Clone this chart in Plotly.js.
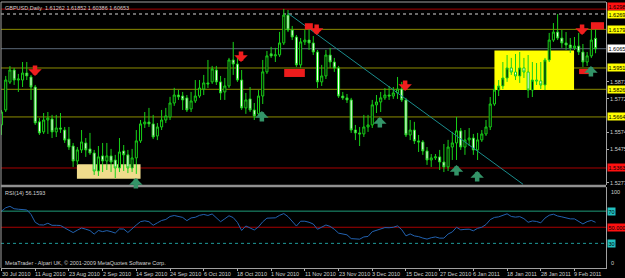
<!DOCTYPE html>
<html><head><meta charset="utf-8">
<script src="https://cdn.plot.ly/plotly-3.0.1.min.js"></script>
<style>html,body{margin:0;padding:0;background:#000;overflow:hidden}#chart{width:625px;height:278px}</style>
</head><body><div id="chart"></div>
<script>
// ---- data (GBPUSD daily) ----
const open = [
1.5617,1.5705,1.5869,1.5940,1.5881,1.5881,1.5922,1.5899,1.5840,1.5635,
1.5576,1.5646,1.5652,1.5576,1.5599,1.5587,1.5534,1.5493,1.5405,1.5470,
1.5511,1.5476,1.5452,1.5346,1.5435,1.5405,1.5435,1.5411,1.5364,1.5464,
1.5441,1.5364,1.5423,1.5523,1.5623,1.5634,1.5623,1.5552,1.5605,1.5646,
1.5664,1.5746,1.5793,1.5787,1.5776,1.5711,1.5758,1.5787,1.5828,1.5864,
1.5870,1.5940,1.5870,1.5811,1.5846,1.5999,1.5975,1.5881,1.5717,1.5770,
1.5705,1.5682,1.5787,1.5929,1.6035,1.6023,1.6029,1.6099,1.6263,1.6175,
1.6134,1.5970,1.6105,1.6116,1.6099,1.6046,1.5870,1.5905,1.6028,1.5987,
1.5952,1.5787,1.5776,1.5764,1.5587,1.5570,1.5564,1.5605,1.5617,1.5735,
1.5752,1.5776,1.5793,1.5787,1.5805,1.5828,1.5764,1.5558,1.5587,1.5523,
1.5517,1.5464,1.5411,1.5423,1.5429,1.5399,1.5370,1.5487,1.5511,1.5582,
1.5487,1.5529,1.5540,1.5470,1.5529,1.5564,1.5605,1.5740,1.5822,1.5846,
1.5893,1.5952,1.5928,1.5905,1.5952,1.5928,1.5822,1.5881,1.5876,1.5852,
1.5999,1.6116,1.6163,1.6128,1.6099,1.6087,1.6070,1.6081,1.6046,1.5987,
1.6023,1.61262];
const high = [
1.5705,1.5905,1.5963,1.5952,1.5917,1.5987,1.5987,1.5911,1.5852,1.5658,
1.5687,1.5693,1.5676,1.5676,1.5687,1.5605,1.5605,1.5511,1.5487,1.5587,
1.5540,1.5570,1.5470,1.5493,1.5511,1.5511,1.5476,1.5441,1.5540,1.5499,
1.5470,1.5476,1.5587,1.5646,1.5693,1.5717,1.5676,1.5628,1.5705,1.5717,
1.5782,1.5835,1.5823,1.5811,1.5793,1.5811,1.5881,1.5881,1.5911,1.5999,
1.5964,1.5964,1.5905,1.5893,1.6011,1.6105,1.6011,1.5940,1.5805,1.5840,
1.5746,1.5822,1.5999,1.6052,1.6076,1.6070,1.6164,1.6299,1.6293,1.6199,
1.6146,1.6128,1.6175,1.6187,1.6140,1.6058,1.5970,1.6058,1.6070,1.6011,
1.5964,1.5811,1.5799,1.5776,1.5617,1.5605,1.5676,1.5676,1.5764,1.5793,
1.5811,1.5834,1.5846,1.5840,1.5899,1.5870,1.5776,1.5646,1.5635,1.5558,
1.5528,1.5487,1.5446,1.5446,1.5470,1.5505,1.5529,1.5576,1.5664,1.5599,
1.5587,1.5599,1.5564,1.5570,1.5587,1.5646,1.5781,1.5852,1.5881,1.5987,
1.6028,1.6011,1.6034,1.6046,1.6011,1.6028,1.5987,1.5981,1.5987,1.6011,
1.6158,1.6216,1.6269,1.6175,1.6163,1.6128,1.6134,1.6158,1.6093,1.6046,
1.6175,1.61852];
const low = [
1.5558,1.5693,1.5858,1.5852,1.5811,1.5840,1.5881,1.5764,1.5617,1.5558,
1.5564,1.5564,1.5540,1.5546,1.5570,1.5511,1.5470,1.5370,1.5381,1.5452,
1.5429,1.5441,1.5323,1.5317,1.5340,1.5352,1.5340,1.5305,1.5340,1.5346,
1.5334,1.5340,1.5329,1.5511,1.5599,1.5605,1.5534,1.5528,1.5587,1.5628,
1.5646,1.5729,1.5764,1.5705,1.5693,1.5693,1.5746,1.5776,1.5793,1.5834,
1.5858,1.5852,1.5764,1.5764,1.5834,1.5911,1.5870,1.5705,1.5682,1.5693,
1.5646,1.5670,1.5740,1.5917,1.6011,1.5987,1.6017,1.6087,1.6163,1.6116,
1.5958,1.5952,1.6087,1.6058,1.6028,1.5834,1.5846,1.5887,1.5952,1.5929,
1.5776,1.5764,1.5746,1.5570,1.5528,1.5493,1.5546,1.5576,1.5599,1.5687,
1.5693,1.5764,1.5764,1.5770,1.5770,1.5752,1.5546,1.5528,1.5505,1.5458,
1.5441,1.5382,1.5370,1.5411,1.5352,1.5340,1.5346,1.5411,1.5411,1.5470,
1.5441,1.5493,1.5441,1.5411,1.5517,1.5552,1.5587,1.5729,1.5787,1.5828,
1.5870,1.5911,1.5881,1.5864,1.5893,1.5776,1.5781,1.5852,1.5828,1.5822,
1.5987,1.6105,1.6116,1.6070,1.6058,1.6040,1.6058,1.6028,1.5958,1.5964,
1.6011,1.60386];
const close = [
1.5693,1.5881,1.5940,1.5881,1.5887,1.5922,1.5905,1.5840,1.5629,1.5570,
1.5646,1.5658,1.5576,1.5599,1.5593,1.5528,1.5487,1.5405,1.5470,1.5517,
1.5470,1.5452,1.5346,1.5429,1.5405,1.5435,1.5399,1.5364,1.5458,1.5441,
1.5364,1.5423,1.5523,1.5623,1.5634,1.5623,1.5546,1.5605,1.5646,1.5670,
1.5746,1.5793,1.5782,1.5764,1.5705,1.5758,1.5787,1.5834,1.5864,1.5858,
1.5946,1.5870,1.5805,1.5846,1.5999,1.5975,1.5881,1.5717,1.5764,1.5705,
1.5670,1.5787,1.5929,1.6023,1.6023,1.6029,1.6099,1.6263,1.6175,1.6134,
1.5970,1.6105,1.6116,1.6099,1.6046,1.5870,1.5905,1.6028,1.5987,1.5952,
1.5787,1.5776,1.5764,1.5587,1.5570,1.5564,1.5605,1.5617,1.5735,1.5752,
1.5776,1.5793,1.5787,1.5805,1.5828,1.5764,1.5558,1.5587,1.5523,1.5517,
1.5464,1.5411,1.5423,1.5429,1.5399,1.5370,1.5487,1.5511,1.5582,1.5487,
1.5529,1.5540,1.5470,1.5529,1.5564,1.5605,1.5740,1.5822,1.5846,1.5893,
1.5952,1.5928,1.5905,1.5952,1.5928,1.5822,1.5881,1.5876,1.5852,1.5999,
1.6116,1.6163,1.6128,1.6099,1.6087,1.6070,1.6081,1.6046,1.5987,1.6023,
1.6116,1.60653];
const rsi = [
70,74.2,76,73,72.4,72.4,71.5,66,56.2,53,
52.8,55,52.4,52.4,52.2,49.2,46.8,43.4,46.4,49.1,
47.6,45.9,41.5,46,44.6,45.8,44.6,42.8,47.9,47.8,
43.5,47.6,52.8,57,58,56.9,52.5,55.5,58.4,59.7,
63.4,64.6,63.6,62.2,58.2,61.6,62.4,64.8,65.9,64.7,
66.5,61.7,56.9,60.5,64.3,62,56,46,51.6,49.1,
46.6,50.5,56.8,61.3,61.7,61.7,64.8,67,63.2,58,
51.5,57.5,57.5,56.2,54,47.5,49.9,52.8,51.1,47.5,
42.7,42,40.6,35.9,35.2,35.2,38,38.6,44.5,46,
48.3,49.6,49.4,50,51.7,47,39.3,41.7,39.2,38.4,
36.6,35.3,37,38,36.5,36.5,41.6,44.2,50,46.8,
47.4,47.6,45.6,48.7,50,53.4,59.5,62.2,62.9,65,
66.7,63.4,62.6,63.2,60.7,56.2,57.8,57.2,55.5,61.4,
64.9,66.2,64,62.9,61.4,60.4,60.4,57.7,54.1,57,
58.5,56.1593];
const dateLabels = ['30 Jul 2010','11 Aug 2010','23 Aug 2010','2 Sep 2010','14 Sep 2010','24 Sep 2010','6 Oct 2010','18 Oct 2010','1 Nov 2010','11 Nov 2010','23 Nov 2010','3 Dec 2010','15 Dec 2010','27 Dec 2010','6 Jan 2011','18 Jan 2011','28 Jan 2011','9 Feb 2011'];
const dateBars = [0,8,16,24,32,40,48,56,64,72,80,88,96,104,112,120,128,136];
const priceTicks = [1.5277,1.5475,1.5574,1.5772,1.5871];
// horizontal lines drawn on the chart (index 3 = bid line)
const levelPrice = [1.62980,1.62693,1.61790,1.60653,1.59518,1.58265,1.56640,1.53638];
const levelColor = ['#a80000','#6a6a6a','#8c8c00','#5a6878','#8c8c00','#8c8c00','#8c8c00','#a80000'];
const levelDash  = ['solid','dot','solid','solid','solid','solid','solid','solid'];
const levelWidth = [1,2,1,1,1,1,1,1];
const levelTag   = ['#ff1010','#ffff00','#ffff00','#ffffff','#ffff00','#ffff00','#ffff00','#ff1010'];
const levelTagShift = [-3,1,0,0,0,0,0,0];
// rectangles: bar index from/to, price from/to
const boxBar0  = [17.9,117.0,67.1,72.0,139.9,137.1];
const boxBar1  = [33.0,135.9,72.0,73.9,143.0,139.7];
const boxP0    = [1.5301,1.5822,1.5899,1.6179,1.6179,1.5916];
const boxP1    = [1.5386,1.6054,1.5946,1.6215,1.6221,1.5946];
const boxColor = ['#f0dc8c','#ffff00','#ee1c1c','#ee1c1c','#ee1c1c','#ee1c1c'];
// arrows (tip position)
const downBar = [7.95,56.85,74.8,95.8,137.8];
const downPrice = [1.5905,1.5987,1.6146,1.5817,1.6146];
const upBar = [31.9,61.8,89.8,108.0,112.9,139.9];
const upPrice = [1.5305,1.5699,1.5664,1.5381,1.5346,1.5964];
// trend line
const trendBar = [68.0,123.8];
const trendPrice = [1.62734,1.52679];
// RSI levels
const rsiLevel = [70,50,30];
const rsiLevelColor = ['#1f9a78','#a80000','#1f9a9a'];
const rsiLevelTag = ['70','50.0000','30'];
const rsiTagBg = ['#22c0c0','#ff1010','#22c0c0'];

const bars = open.map((_, i) => i);
const FONT = 'Liberation Sans, Arial, sans-serif';
const TXT = '#d0d0d0';

const candle = {
  type: 'candlestick', x: bars, open: open, high: high, low: low, close: close,
  xaxis: 'x', yaxis: 'y', hoverinfo: 'skip', whiskerwidth: 0,
  increasing: {line: {color: '#18d018', width: 1}, fillcolor: '#000000'},
  decreasing: {line: {color: '#18d018', width: 1}, fillcolor: '#ffffff'}
};
const trend = {type: 'scatter', mode: 'lines', x: trendBar, y: trendPrice, xaxis: 'x', yaxis: 'y',
  line: {color: '#1a8c8c', width: 1}, hoverinfo: 'skip'};
const rsiLine = {type: 'scatter', mode: 'lines', x: bars, y: rsi, xaxis: 'x2', yaxis: 'y2',
  line: {color: '#2262b0', width: 1}, hoverinfo: 'skip'};

const shapes = [];
levelPrice.forEach((p, k) => shapes.push({type: 'line', xref: 'paper', x0: 0, x1: 1, yref: 'y', y0: p, y1: p,
  line: {color: levelColor[k], width: levelWidth[k], dash: levelDash[k]}, layer: 'below'}));
boxBar0.forEach((b, k) => shapes.push({type: 'rect', xref: 'x', yref: 'y', x0: b, x1: boxBar1[k], y0: boxP0[k], y1: boxP1[k],
  fillcolor: boxColor[k], line: {width: 0}, layer: k < 2 ? 'below' : 'above'}));
rsiLevel.forEach((v, k) => shapes.push({type: 'line', xref: 'paper', x0: 0, x1: 1, yref: 'y2', y0: v, y1: v,
  line: {color: rsiLevelColor[k], width: 1, dash: k === 2 ? 'dot' : 'solid'}, layer: 'below'}));
// frame
shapes.push({type: 'line', xref: 'paper', yref: 'paper', x0: 0, x1: 0, y0: 0, y1: 1, line: {color: '#a0a0a0', width: 1}});
shapes.push({type: 'line', xref: 'paper', yref: 'paper', x0: 0, x1: 1, y0: 1, y1: 1, line: {color: '#a0a0a0', width: 1}});
shapes.push({type: 'line', xref: 'paper', yref: 'paper', x0: 0, x1: 1, y0: 0.3083, y1: 0.3083, line: {color: '#909090', width: 2.5}});

const ann = [];
const tagFont = {family: FONT, size: 5.5, color: '#000'};
levelPrice.forEach((p, k) => ann.push({xref: 'paper', x: 1, xanchor: 'left', xshift: 1, yref: 'y', y: p, yanchor: 'middle',
  yshift: -levelTagShift[k], text: p.toFixed(5), showarrow: false, bgcolor: levelTag[k], borderpad: 0.5, font: tagFont}));
rsiLevel.forEach((v, k) => ann.push({xref: 'paper', x: 1, xanchor: 'left', xshift: 1, yref: 'y2', y: v, yanchor: 'middle',
  text: rsiLevelTag[k], showarrow: false, bgcolor: rsiTagBg[k], borderpad: 0.5, font: tagFont}));
downBar.forEach((b, k) => ann.push({xref: 'x', yref: 'y', x: b, y: downPrice[k], ax: 0, ay: -12, text: '',
  showarrow: true, arrowhead: 1, arrowsize: 0.5, arrowwidth: 4.5, arrowcolor: '#f01e1e', standoff: 0}));
upBar.forEach((b, k) => ann.push({xref: 'x', yref: 'y', x: b, y: upPrice[k], ax: 0, ay: 12, text: '',
  showarrow: true, arrowhead: 1, arrowsize: 0.5, arrowwidth: 4.5, arrowcolor: '#339468', standoff: 0}));
const small = {family: FONT, size: 5.5, color: TXT};
ann.push({xref: 'paper', yref: 'paper', x: 0, y: 1, xanchor: 'left', yanchor: 'top', xshift: 2, yshift: -1,
  text: 'GBPUSD,Daily  1.61262 1.61852 1.60386 1.60653', showarrow: false, font: small});
ann.push({xref: 'paper', yref: 'paper', x: 0, y: 0.3045, xanchor: 'left', yanchor: 'top', xshift: 2, yshift: -1,
  text: 'RSI(14) 56.1593', showarrow: false, font: small});
ann.push({xref: 'paper', yref: 'paper', x: 0, y: 0, xanchor: 'left', yanchor: 'bottom', xshift: 2, yshift: 0,
  text: 'MetaTrader - Alpari UK, © 2001-2009 MetaQuotes Software Corp.', showarrow: false, font: small});
ann.push({xref: 'paper', x: 1, xanchor: 'left', xshift: 3, yref: 'y2', y: 100, yanchor: 'top', text: '100', showarrow: false, font: small});
ann.push({xref: 'paper', x: 1, xanchor: 'left', xshift: 3, yref: 'y2', y: 0, yanchor: 'bottom', text: '0', showarrow: false, font: small});
dateBars.forEach((b, k) => ann.push({xref: 'x2', yref: 'paper', x: b, y: 0, xanchor: 'left', yanchor: 'top', xshift: -2, yshift: -1,
  text: dateLabels[k], showarrow: false, font: small}));

const xr = [-0.12, 143.48];
const layout = {
  width: 625, height: 278, margin: {l: 1, r: 19, t: 2, b: 10},
  paper_bgcolor: '#000', plot_bgcolor: '#000', showlegend: false,
  font: {family: FONT, size: 5.5, color: TXT},
  xaxis: {domain: [0, 1], anchor: 'y', range: xr, showgrid: false, zeroline: false, showticklabels: false,
    ticks: '', rangeslider: {visible: false}, fixedrange: true},
  yaxis: {domain: [0.31203, 1], range: [1.52638, 1.63398], side: 'right', showgrid: false, zeroline: false,
    tickvals: priceTicks, tickformat: '.5f', ticks: 'outside', ticklen: 2, tickcolor: '#b0b0b0',
    showline: true, linecolor: '#a0a0a0', linewidth: 1, tickfont: {family: FONT, size: 5.5, color: TXT}},
  xaxis2: {domain: [0, 1], anchor: 'y2', range: xr, showgrid: false, zeroline: false,
    tickvals: dateBars, showticklabels: false, ticks: 'outside', ticklen: 2, tickcolor: '#b0b0b0',
    showline: true, linecolor: '#a0a0a0', linewidth: 1},
  yaxis2: {domain: [0, 0.3045], range: [-0.6, 100], side: 'right', showgrid: false, zeroline: false,
    showticklabels: false, ticks: '', showline: true, linecolor: '#a0a0a0', linewidth: 1},
  shapes: shapes, annotations: ann
};
Plotly.newPlot('chart', [candle, trend, rsiLine], layout, {staticPlot: true, displayModeBar: false});
</script></body></html>
